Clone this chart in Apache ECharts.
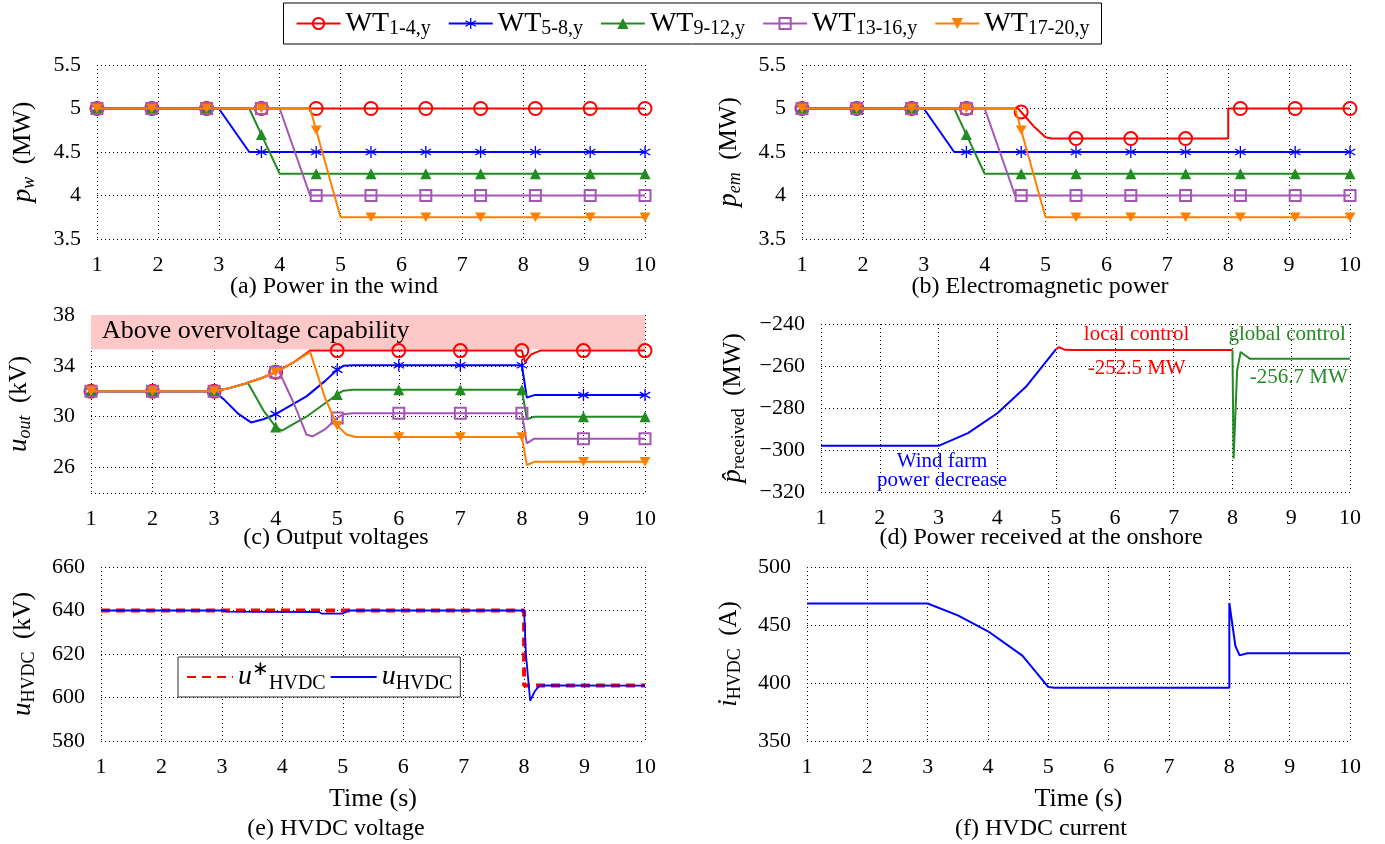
<!DOCTYPE html>
<html>
<head>
<meta charset="utf-8">
<script src="https://cdn.jsdelivr.net/npm/echarts@6/dist/echarts.min.js"></script>
<style>html,body{margin:0;padding:0;background:#fff;}#c{width:1385px;height:844px;}</style>
</head>
<body>
<div id="c"></div>
<script>
// ---------------- DATA ----------------
const wtNames = ['WT1-4', 'WT5-8', 'WT9-12', 'WT13-16', 'WT17-20'];
const wtSubs = ['1-4,y', '5-8,y', '9-12,y', '13-16,y', '17-20,y'];
const marksAB = [1, 1.9, 2.8, 3.7, 4.6, 5.5, 6.4, 7.3, 8.2, 9.1, 10];
const marksC = [1, 2, 3, 4, 5, 6, 7, 8, 9, 10];
const xTicks = [1, 2, 3, 4, 5, 6, 7, 8, 9, 10];

// (a) power in the wind (MW)
const pwRed = [[1,5],[1.9,5],[2.8,5],[3.7,5],[4.6,5],[5.5,5],[6.4,5],[7.3,5],[8.2,5],[9.1,5],[10,5]];
const pwBlue = [[1,5],[1.9,5],[2.8,5],[3,5],[3.5,4.5],[3.7,4.5],[4.6,4.5],[5.5,4.5],[6.4,4.5],[7.3,4.5],[8.2,4.5],[9.1,4.5],[10,4.5]];
const pwGreen = [[1,5],[1.9,5],[2.8,5],[3.5,5],[3.7,4.7],[4,4.25],[4.6,4.25],[5.5,4.25],[6.4,4.25],[7.3,4.25],[8.2,4.25],[9.1,4.25],[10,4.25]];
const pwPurple = [[1,5],[1.9,5],[2.8,5],[3.7,5],[4,5],[4.5,4],[4.6,4],[5.5,4],[6.4,4],[7.3,4],[8.2,4],[9.1,4],[10,4]];
const pwOrange = [[1,5],[1.9,5],[2.8,5],[3.7,5],[4.5,5],[4.6,4.75],[5,3.75],[5.5,3.75],[6.4,3.75],[7.3,3.75],[8.2,3.75],[9.1,3.75],[10,3.75]];

// (b) electromagnetic power (MW)
const pemRed = [[1,5],[1.9,5],[2.8,5],[3.7,5],[4.55,5],[4.6,4.96],[4.8,4.8],[5,4.67],[5.1,4.655],[5.5,4.655],[6.4,4.655],[7.3,4.655],[8,4.655],[8,5],[8.2,5],[9.1,5],[10,5]];
const pemBlue = pwBlue;
const pemGreen = pwGreen;
const pemPurple = pwPurple;
const pemOrange = pwOrange;

// (c) output voltages (kV)
const uRed = [[1,32],[2,32],[3,32],[3.25,32.25],[3.5,32.6],[3.75,33],[4,33.5],[4.3,34.3],[4.56,35.2],[5,35.2],[6,35.2],[7,35.2],[8,35.2],[8.05,34.3],[8.15,34.9],[8.3,35.2],[9,35.2],[10,35.2]];
const uBlue = [[1,32],[2,32],[3,32],[3.15,31.4],[3.4,30.2],[3.6,29.55],[3.8,29.8],[4,30.2],[4.5,31.6],[4.8,32.8],[5,33.7],[5.1,34],[5.25,34.05],[6,34.05],[7,34.05],[8,34.05],[8.08,31.5],[8.2,31.7],[9,31.7],[10,31.7]];
const uGreen = [[1,32],[2,32],[3,32],[3.25,32.25],[3.55,32.65],[3.8,30.5],[4,29.2],[4.1,28.9],[4.5,30],[5,31.75],[5.1,32.05],[5.25,32.13],[6,32.13],[7,32.13],[8,32.13],[8.08,29.8],[8.2,30],[9,30],[10,30]];
const uPurple = [[1,32],[2,32],[3,32],[3.25,32.25],[3.5,32.6],[3.75,33],[4,33.5],[4.05,33.6],[4.3,31],[4.5,28.6],[4.6,28.45],[4.8,29],[5,29.9],[5.1,30.2],[5.25,30.27],[6,30.27],[7,30.27],[8,30.27],[8.08,27.9],[8.2,28.27],[9,28.27],[10,28.27]];
const uOrange = [[1,32],[2,32],[3,32],[3.25,32.25],[3.5,32.6],[3.75,33],[4,33.5],[4.3,34.3],[4.56,35.1],[4.8,31.5],[5,29.3],[5.15,28.6],[5.3,28.4],[6,28.4],[7,28.4],[8,28.4],[8.08,26.2],[8.2,26.45],[9,26.45],[10,26.45]];
const overvoltageBand = [35.3, 38];

// (d) power received at the onshore (MW)
const recvDecrease = [[1,-298],[3,-298],[3.5,-292],[4,-282.5],[4.5,-269.5],[5,-252]];
const recvLocal = [[5,-252],[5.05,-251],[5.15,-252.3],[5.3,-252.4],[8,-252.4]];
const recvGlobal = [[8,-252.4],[8.02,-304],[8.08,-262],[8.14,-253.3],[8.22,-255],[8.3,-256.6],[10,-256.6]];

// (e) HVDC voltage (kV)
const uHvdcRef = [[1,640],[8,640],[8,605.5],[10,605.5]];
const uHvdc = [[1,640],[3,640],[3.1,639.5],[4.6,639.3],[4.65,638.6],[5,638.6],[5.1,640],[8,640],[8.03,620],[8.1,598.5],[8.18,603],[8.26,605.6],[10,605.5]];

// (f) HVDC current (A)
const iHvdc = [[1,468.5],[3,468.5],[3.5,458.3],[4,444.6],[4.57,423.6],[5,396.5],[5.1,396],[8,396],[8,469],[8.1,432],[8.17,423.8],[8.3,425.7],[10,425.7]];

// ---------------- STYLE ----------------
const FONT = 'Liberation Serif';
const RED = '#ff0000', BLUE = '#0000ff', GREEN = '#228b22', PURPLE = '#a555b5', ORANGE = '#ff8000';
const colors = [RED, BLUE, GREEN, PURPLE, ORANGE];
const asterisk = 'path://M-1.1,-10 L1.1,-10 L1.1,10 L-1.1,10 Z M9.21,4.05 L8.11,5.95 L-9.21,-4.05 L-8.11,-5.95 Z M8.11,-5.95 L9.21,-4.05 L-8.11,5.95 L-9.21,4.05 Z';
const symbols = ['circle', asterisk, 'triangle', 'rect', 'path://M0,0 L10,0 L5,8.66 Z'];
const symSizes = [13, 12, 11, 11, 11];
const hollow = [true, false, false, true, false];

const grids = [
  {left: 97, top: 65, width: 548, height: 174},
  {left: 802, top: 65, width: 548, height: 174},
  {left: 91, top: 315, width: 554, height: 178},
  {left: 821, top: 324, width: 529, height: 168},
  {left: 101, top: 567, width: 544, height: 174},
  {left: 807, top: 567, width: 543, height: 174}
];

const gridLine = {show: true, lineStyle: {color: '#000', width: 1, type: [1, 3]}};
const tickLbl = {color: '#000', fontFamily: FONT, fontSize: 22};
const nameRich = {
  i: {fontFamily: FONT, fontStyle: 'italic', fontSize: 27, color: '#000', lineHeight: 32},
  s: {fontFamily: FONT, fontStyle: 'italic', fontSize: 18, color: '#000', lineHeight: 18, padding: [13, 0, 0, 0]},
  r: {fontFamily: FONT, fontSize: 18, color: '#000', lineHeight: 18, padding: [13, 0, 0, 0]},
  n: {fontFamily: FONT, fontSize: 25, color: '#000', lineHeight: 32}
};

function xAxisFor(i, withName) {
  const ax = {
    type: 'value', gridIndex: i, min: 1, max: 10, interval: 1,
    axisLine: {show: false}, axisTick: {show: false},
    axisLabel: Object.assign({margin: 15}, tickLbl),
    splitLine: gridLine
  };
  if (withName) {
    ax.name = 'Time (s)';
    ax.nameLocation = 'middle';
    ax.nameGap = 45;
    ax.nameTextStyle = {fontFamily: FONT, fontSize: 26, color: '#000'};
  }
  return ax;
}
function yAxisFor(i, min, max, interval, name, gap, extra) {
  return Object.assign({
    type: 'value', gridIndex: i, min: min, max: max, interval: interval,
    axisLine: {show: false}, axisTick: {show: false},
    axisLabel: Object.assign({margin: 16, formatter: v => (v < 0 ? '\u2212' + Math.abs(v) : String(v))}, tickLbl),
    splitLine: gridLine,
    name: name, nameLocation: 'middle', nameRotate: 90, nameGap: gap,
    nameTextStyle: {rich: nameRich}
  }, extra || {});
}

function mk(arr, marks) {
  return arr.map(p => marks.indexOf(p[0]) >= 0 ? {value: p} : {value: p, symbol: 'none'});
}
function wtSeries(k, data, axisIdx, marks) {
  return {
    name: wtNames[k], type: 'line', xAxisIndex: axisIdx, yAxisIndex: axisIdx,
    data: mk(data, marks), symbol: symbols[k], symbolSize: symSizes[k], symbolKeepAspect: true,
    showSymbol: true, showAllSymbol: true,
    lineStyle: {color: colors[k], width: 2},
    itemStyle: hollow[k] ? {color: 'rgba(255,255,255,0)', borderColor: colors[k], borderWidth: 2}
                         : {color: colors[k], borderWidth: 0},
    z: 3 + k
  };
}
function plainLine(name, data, axisIdx, color, width, type) {
  return {
    name: name, type: 'line', xAxisIndex: axisIdx, yAxisIndex: axisIdx, data: data,
    symbol: 'none', showSymbol: false,
    lineStyle: {color: color, width: width, type: type || 'solid'},
    itemStyle: {color: color}
  };
}

const series = [];
[pwRed, pwBlue, pwGreen, pwPurple, pwOrange].forEach((d, k) => series.push(wtSeries(k, d, 0, marksAB)));
[pemRed, pemBlue, pemGreen, pemPurple, pemOrange].forEach((d, k) => series.push(wtSeries(k, d, 1, marksAB)));
[uRed, uBlue, uGreen, uPurple, uOrange].forEach((d, k) => series.push(wtSeries(k, d, 2, marksC)));
// overvoltage band
series[10].markArea = {
  silent: true,
  itemStyle: {color: '#ffc8c8'},
  label: {show: true, position: 'insideTopLeft', offset: [6, -2], color: '#000', fontFamily: FONT, fontSize: 26},
  data: [[{xAxis: 1, yAxis: overvoltageBand[0], name: 'Above overvoltage capability'}, {xAxis: 10, yAxis: overvoltageBand[1]}]]
};

const annot = (txt, color) => ({show: true, color: color, fontFamily: FONT, fontSize: 21, formatter: txt});
const sDec = plainLine('Wind farm power decrease', recvDecrease, 3, BLUE, 2);
sDec.markPoint = {symbol: 'circle', symbolSize: 0, silent: true,
  data: [{coord: [3.06, -310], label: Object.assign(annot('Wind farm\npower decrease', BLUE), {lineHeight: 19, position: 'inside'})}]};
const sLoc = plainLine('local control', recvLocal, 3, RED, 2);
sLoc.markPoint = {symbol: 'circle', symbolSize: 0, silent: true,
  data: [{coord: [6.37, -245], label: Object.assign(annot('local control', RED), {position: 'inside'})},
         {coord: [6.37, -261], label: Object.assign(annot('-252.5 MW', RED), {position: 'inside'})}]};
const sGlob = plainLine('global control', recvGlobal, 3, GREEN, 2);
sGlob.markPoint = {symbol: 'circle', symbolSize: 0, silent: true,
  data: [{coord: [8.93, -245], label: Object.assign(annot('global control', GREEN), {position: 'inside'})},
         {coord: [9.13, -265.5], label: Object.assign(annot('-256.7 MW', GREEN), {position: 'inside'})}]};
series.push(sDec, sLoc, sGlob);

series.push(plainLine('uref', uHvdcRef, 4, RED, 4, [9, 6]));
series.push(plainLine('u', uHvdc, 4, BLUE, 1.8));
series.push(plainLine('i', iHvdc, 5, BLUE, 2));

const captions = [
  ['(a) Power in the wind', 334, 287],
  ['(b) Electromagnetic power', 1040, 287],
  ['(c) Output voltages', 336, 538],
  ['(d) Power received at the onshore', 1041, 538],
  ['(e) HVDC voltage', 336, 829],
  ['(f) HVDC current', 1041, 829]
];

const option = {
  animation: false,
  backgroundColor: '#fff',
  grid: grids,
  xAxis: [xAxisFor(0), xAxisFor(1), xAxisFor(2), xAxisFor(3), xAxisFor(4, true), xAxisFor(5, true)],
  yAxis: [
    yAxisFor(0, 3.5, 5.5, 0.5, '{i|p}{s|w}{n|  (MW)}', 58),
    yAxisFor(1, 3.5, 5.5, 0.5, '{i|p}{s|em}{n|  (MW)}', 57),
    yAxisFor(2, 24, 38, 2, '{i|u}{s|out}{n|  (kV)}', 56, {
      axisLabel: Object.assign({margin: 16, customValues: [26, 30, 34, 38]}, tickLbl),
      axisTick: {show: false, customValues: [24, 26, 30, 34, 38]},
      splitLine: Object.assign({}, gridLine)
    }),
    yAxisFor(3, -320, -240, 20, '{i|p\u0302}{r|received}{n|  (MW)}', 72),
    yAxisFor(4, 580, 660, 20, '{i|u}{r|HVDC}{n|  (kV)}', 62),
    yAxisFor(5, 350, 500, 50, '{i|i}{r|HVDC}{n|  (A)}', 62)
  ],
  legend: [
    {
      data: wtNames, left: 'center', top: 3, orient: 'horizontal',
      borderColor: '#000', borderWidth: 1, padding: [5, 12, 5, 12], itemGap: 17,
      itemWidth: 44, itemHeight: 14,
      formatter: name => '{b|WT}{s|' + wtSubs[wtNames.indexOf(name)] + '}',
      textStyle: {rich: {
        b: {fontFamily: FONT, fontSize: 28, color: '#000', lineHeight: 30},
        s: {fontFamily: FONT, fontSize: 20, color: '#000', lineHeight: 20, padding: [11, 0, 0, 0]}
      }}
    },
    {
      data: ['uref', 'u'], left: 178, top: 657, orient: 'horizontal',
      borderColor: '#333', borderWidth: 1, backgroundColor: '#fff', padding: [3, 8, 3, 8], itemGap: 4,
      itemWidth: 46, itemHeight: 14,
      itemStyle: {color: 'rgba(0,0,0,0)', borderWidth: 0, opacity: 0},
      formatter: name => name === 'uref' ? '{i|u}{sup|\u2217}{s|HVDC}' : '{i|u}{s|HVDC}',
      textStyle: {rich: {
        i: {fontFamily: FONT, fontStyle: 'italic', fontSize: 28, color: '#000', lineHeight: 32},
        sup: {fontFamily: FONT, fontSize: 20, color: '#000', lineHeight: 18, padding: [0, 0, 14, 0]},
        s: {fontFamily: FONT, fontSize: 20, color: '#000', lineHeight: 20, padding: [14, 0, 0, 0]}
      }}
    }
  ],
  graphic: captions.map(c => ({
    type: 'text', x: c[1], y: c[2],
    style: {text: c[0], textAlign: 'center', textVerticalAlign: 'middle', font: '24px "Liberation Serif"', fill: '#000'}
  })),
  series: series
};

const chart = echarts.init(document.getElementById('c'), null, {renderer: 'canvas'});
chart.setOption(option);
</script>
</body>
</html>
